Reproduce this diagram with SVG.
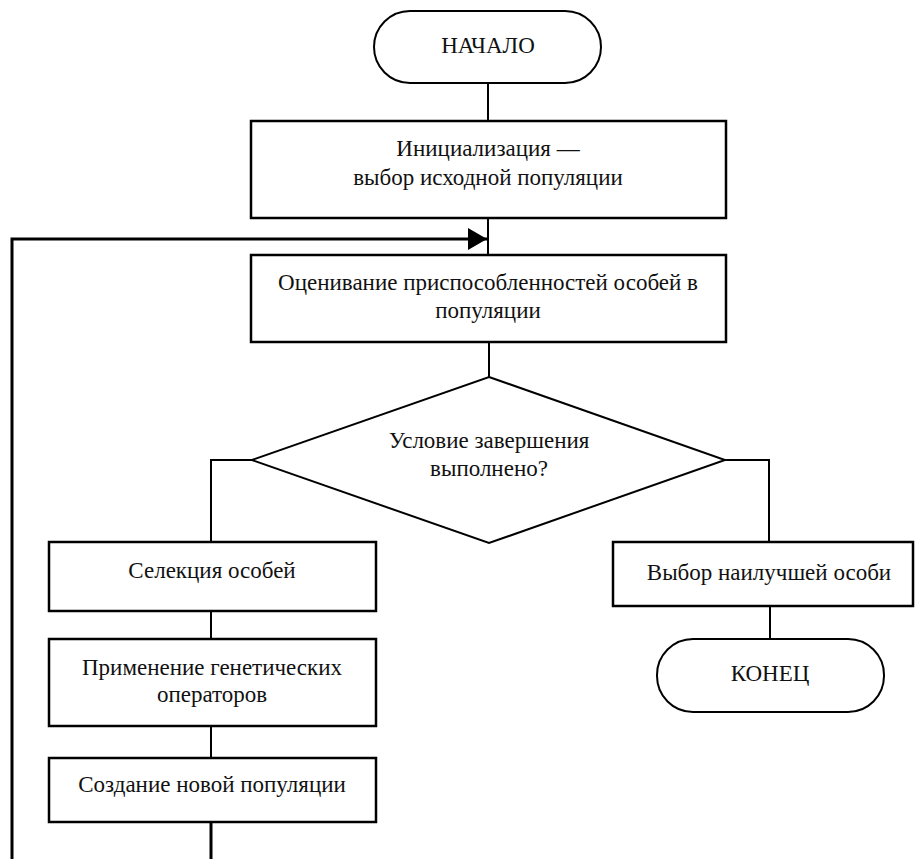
<svg xmlns="http://www.w3.org/2000/svg" width="915" height="859" viewBox="0 0 915 859">
<style>
.box{fill:#fff;stroke:#000;stroke-width:2.5}
.term{fill:#fff;stroke:#000;stroke-width:2}
.c{fill:none;stroke:#000;stroke-width:2}
.loop{fill:none;stroke:#000;stroke-width:3}
text{font-family:"Liberation Serif","Times New Roman",serif;font-size:23px;fill:#111;text-anchor:middle}
</style>
<defs>
<marker id="ah" markerWidth="20" markerHeight="22" refX="19" refY="11" orient="auto" markerUnits="userSpaceOnUse">
<path d="M0,0 L19,11 L0,22 Z" fill="#000"/>
</marker>
</defs>
<rect width="915" height="859" fill="#fff"/>
<g id="connectors">
<path class="c" d="M488,83 V121"/>
<path class="c" d="M488,218 V255"/>
<path class="c" d="M489,342 V377"/>
<path class="c" d="M252,460 H211 V542"/>
<path class="c" d="M725,460 H769 V542"/>
<path class="c" d="M211,611 V639"/>
<path class="c" d="M211,726 V758"/>
<path class="c" d="M770,606 V639"/>
<path class="loop" d="M211,822 V859"/>
<path class="loop" d="M12,859 V239 H487" marker-end="url(#ah)"/>
</g>
<g id="start">
<rect class="term" x="374" y="11" width="227" height="72" rx="36" ry="36"/>
<text x="488" y="53">НАЧАЛО</text>
</g>
<g id="init">
<rect class="box" x="251" y="121" width="475" height="97"/>
<text x="488" y="156">Инициализация —</text>
<text x="488" y="185">выбор исходной популяции</text>
</g>
<g id="eval">
<rect class="box" x="251" y="255" width="475" height="87"/>
<text x="488" y="290">Оценивание приспособленностей особей в</text>
<text x="488" y="318">популяции</text>
</g>
<g id="cond">
<polygon class="term" points="489,377 725,460 489,543 252,460"/>
<text x="489" y="448">Условие завершения</text>
<text x="489" y="476">выполнено?</text>
</g>
<g id="select">
<rect class="box" x="49" y="542" width="327" height="69"/>
<text x="212" y="578">Селекция особей</text>
</g>
<g id="genops">
<rect class="box" x="49" y="639" width="327" height="87"/>
<text x="212" y="675">Применение генетических</text>
<text x="212" y="702">операторов</text>
</g>
<g id="newpop">
<rect class="box" x="49" y="758" width="327" height="64"/>
<text x="212" y="792">Создание новой популяции</text>
</g>
<g id="best">
<rect class="box" x="613" y="542" width="300" height="64"/>
<text x="769" y="580">Выбор наилучшей особи</text>
</g>
<g id="end">
<rect class="term" x="657" y="639" width="227" height="73" rx="36" ry="36"/>
<text x="770" y="681">КОНЕЦ</text>
</g>
</svg>
